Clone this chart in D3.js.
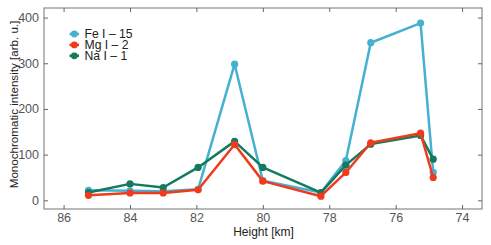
<!DOCTYPE html>
<html><head><meta charset="utf-8">
<script src="https://cdn.jsdelivr.net/npm/d3@7"></script>
<style>
html,body{margin:0;padding:0;background:#fff;}
svg text{font-family:"Liberation Sans",Arial,Helvetica,sans-serif;}
</style></head>
<body><svg id="c" width="491" height="245"></svg>
<script>
const heights = [85.25, 84.0, 83.0, 81.95, 80.85, 80.0, 78.25, 77.5, 76.75, 75.25, 74.87];
const feValues = [22, 21, 20, 24, 298, 43, 17, 87, 345, 388, 61];
const mgValues = [11, 16, 16, 23, 122, 42, 9, 61, 126, 147, 50];
const naValues = [17, 36, 28, 72, 129, 72, 17, 77, 123, 142, 90];
const seriesNames = ["Fe I – 15", "Mg I – 2", "Na I – 1"];
const seriesColors = ["#45b0d0", "#f03a1e", "#137a5e"];
const xTicks = [86, 84, 82, 80, 78, 76, 74];
const yTicks = [0, 100, 200, 300, 400];

const svg = d3.select("#c");
const L = 44, R = 482, T = 8, B = 209;
const x = d3.scaleLinear().domain([86.59, 73.4]).range([L, R]);
const y = d3.scaleLinear().domain([-19, 421]).range([B, T]);

const tickCol = "#555";
svg.append("rect").attr("x", L).attr("y", T).attr("width", R - L).attr("height", B - T)
  .attr("fill", "none").attr("stroke", "#8a8a8a").attr("stroke-width", 1.2);

function styleAxis(g) {
  g.select(".domain").remove();
  g.selectAll(".tick line").attr("stroke", "#666").attr("stroke-width", 1);
  g.selectAll(".tick text").attr("fill", tickCol).style("font-size", "12.5px");
}
svg.append("g").attr("transform", `translate(0,${B})`)
  .call(d3.axisBottom(x).tickValues(xTicks).tickSizeInner(-4).tickSizeOuter(0).tickPadding(4.5).tickFormat(d3.format("d")))
  .call(styleAxis);
svg.append("g").attr("transform", `translate(0,${T})`)
  .call(d3.axisTop(x).tickValues(xTicks).tickSizeInner(-4).tickSizeOuter(0).tickFormat(""))
  .call(styleAxis);
svg.append("g").attr("transform", `translate(${L},0)`)
  .call(d3.axisLeft(y).tickValues(yTicks).tickSizeInner(-4).tickSizeOuter(0).tickPadding(5).tickFormat(d3.format("d")))
  .call(styleAxis);
svg.append("g").attr("transform", `translate(${R},0)`)
  .call(d3.axisRight(y).tickValues(yTicks).tickSizeInner(-4).tickSizeOuter(0).tickFormat(""))
  .call(styleAxis);

svg.append("text").attr("x", 263.5).attr("y", 236).attr("text-anchor", "middle")
  .attr("fill", "#222").style("font-size", "12px").text("Height [km]");
svg.append("text").attr("transform", `translate(18,104.5) rotate(-90)`).attr("text-anchor", "middle")
  .attr("fill", "#222").style("font-size", "11.6px").text("Monochromatic intensity [arb. u.]");

const series = [
  {name: seriesNames[0], color: seriesColors[0], values: feValues},
  {name: seriesNames[1], color: seriesColors[1], values: mgValues},
  {name: seriesNames[2], color: seriesColors[2], values: naValues}
];
const drawOrder = [0, 2, 1];
const line = d3.line().x(d => x(d[0])).y(d => y(d[1]));
drawOrder.forEach(i => {
  const s = series[i];
  const pts = heights.map((h, j) => [h, s.values[j]]);
  const g = svg.append("g");
  g.append("path").datum(pts).attr("d", line).attr("fill", "none")
    .attr("stroke", s.color).attr("stroke-width", 2.5).attr("stroke-linejoin", "round");
  g.selectAll("circle").data(pts).join("circle")
    .attr("cx", d => x(d[0])).attr("cy", d => y(d[1])).attr("r", 3.6).attr("fill", s.color);
});

series.forEach((s, i) => {
  const ly = 34 + i * 10.9;
  const g = svg.append("g");
  g.append("line").attr("x1", 69.5).attr("x2", 79).attr("y1", ly).attr("y2", ly)
    .attr("stroke", s.color).attr("stroke-width", 2.6);
  g.append("circle").attr("cx", 74.3).attr("cy", ly).attr("r", 3.4).attr("fill", s.color);
  g.append("text").attr("x", 84.5).attr("y", ly + 4.3).attr("fill", "#222")
    .style("font-size", "12.2px").text(s.name);
});
</script></body></html>
